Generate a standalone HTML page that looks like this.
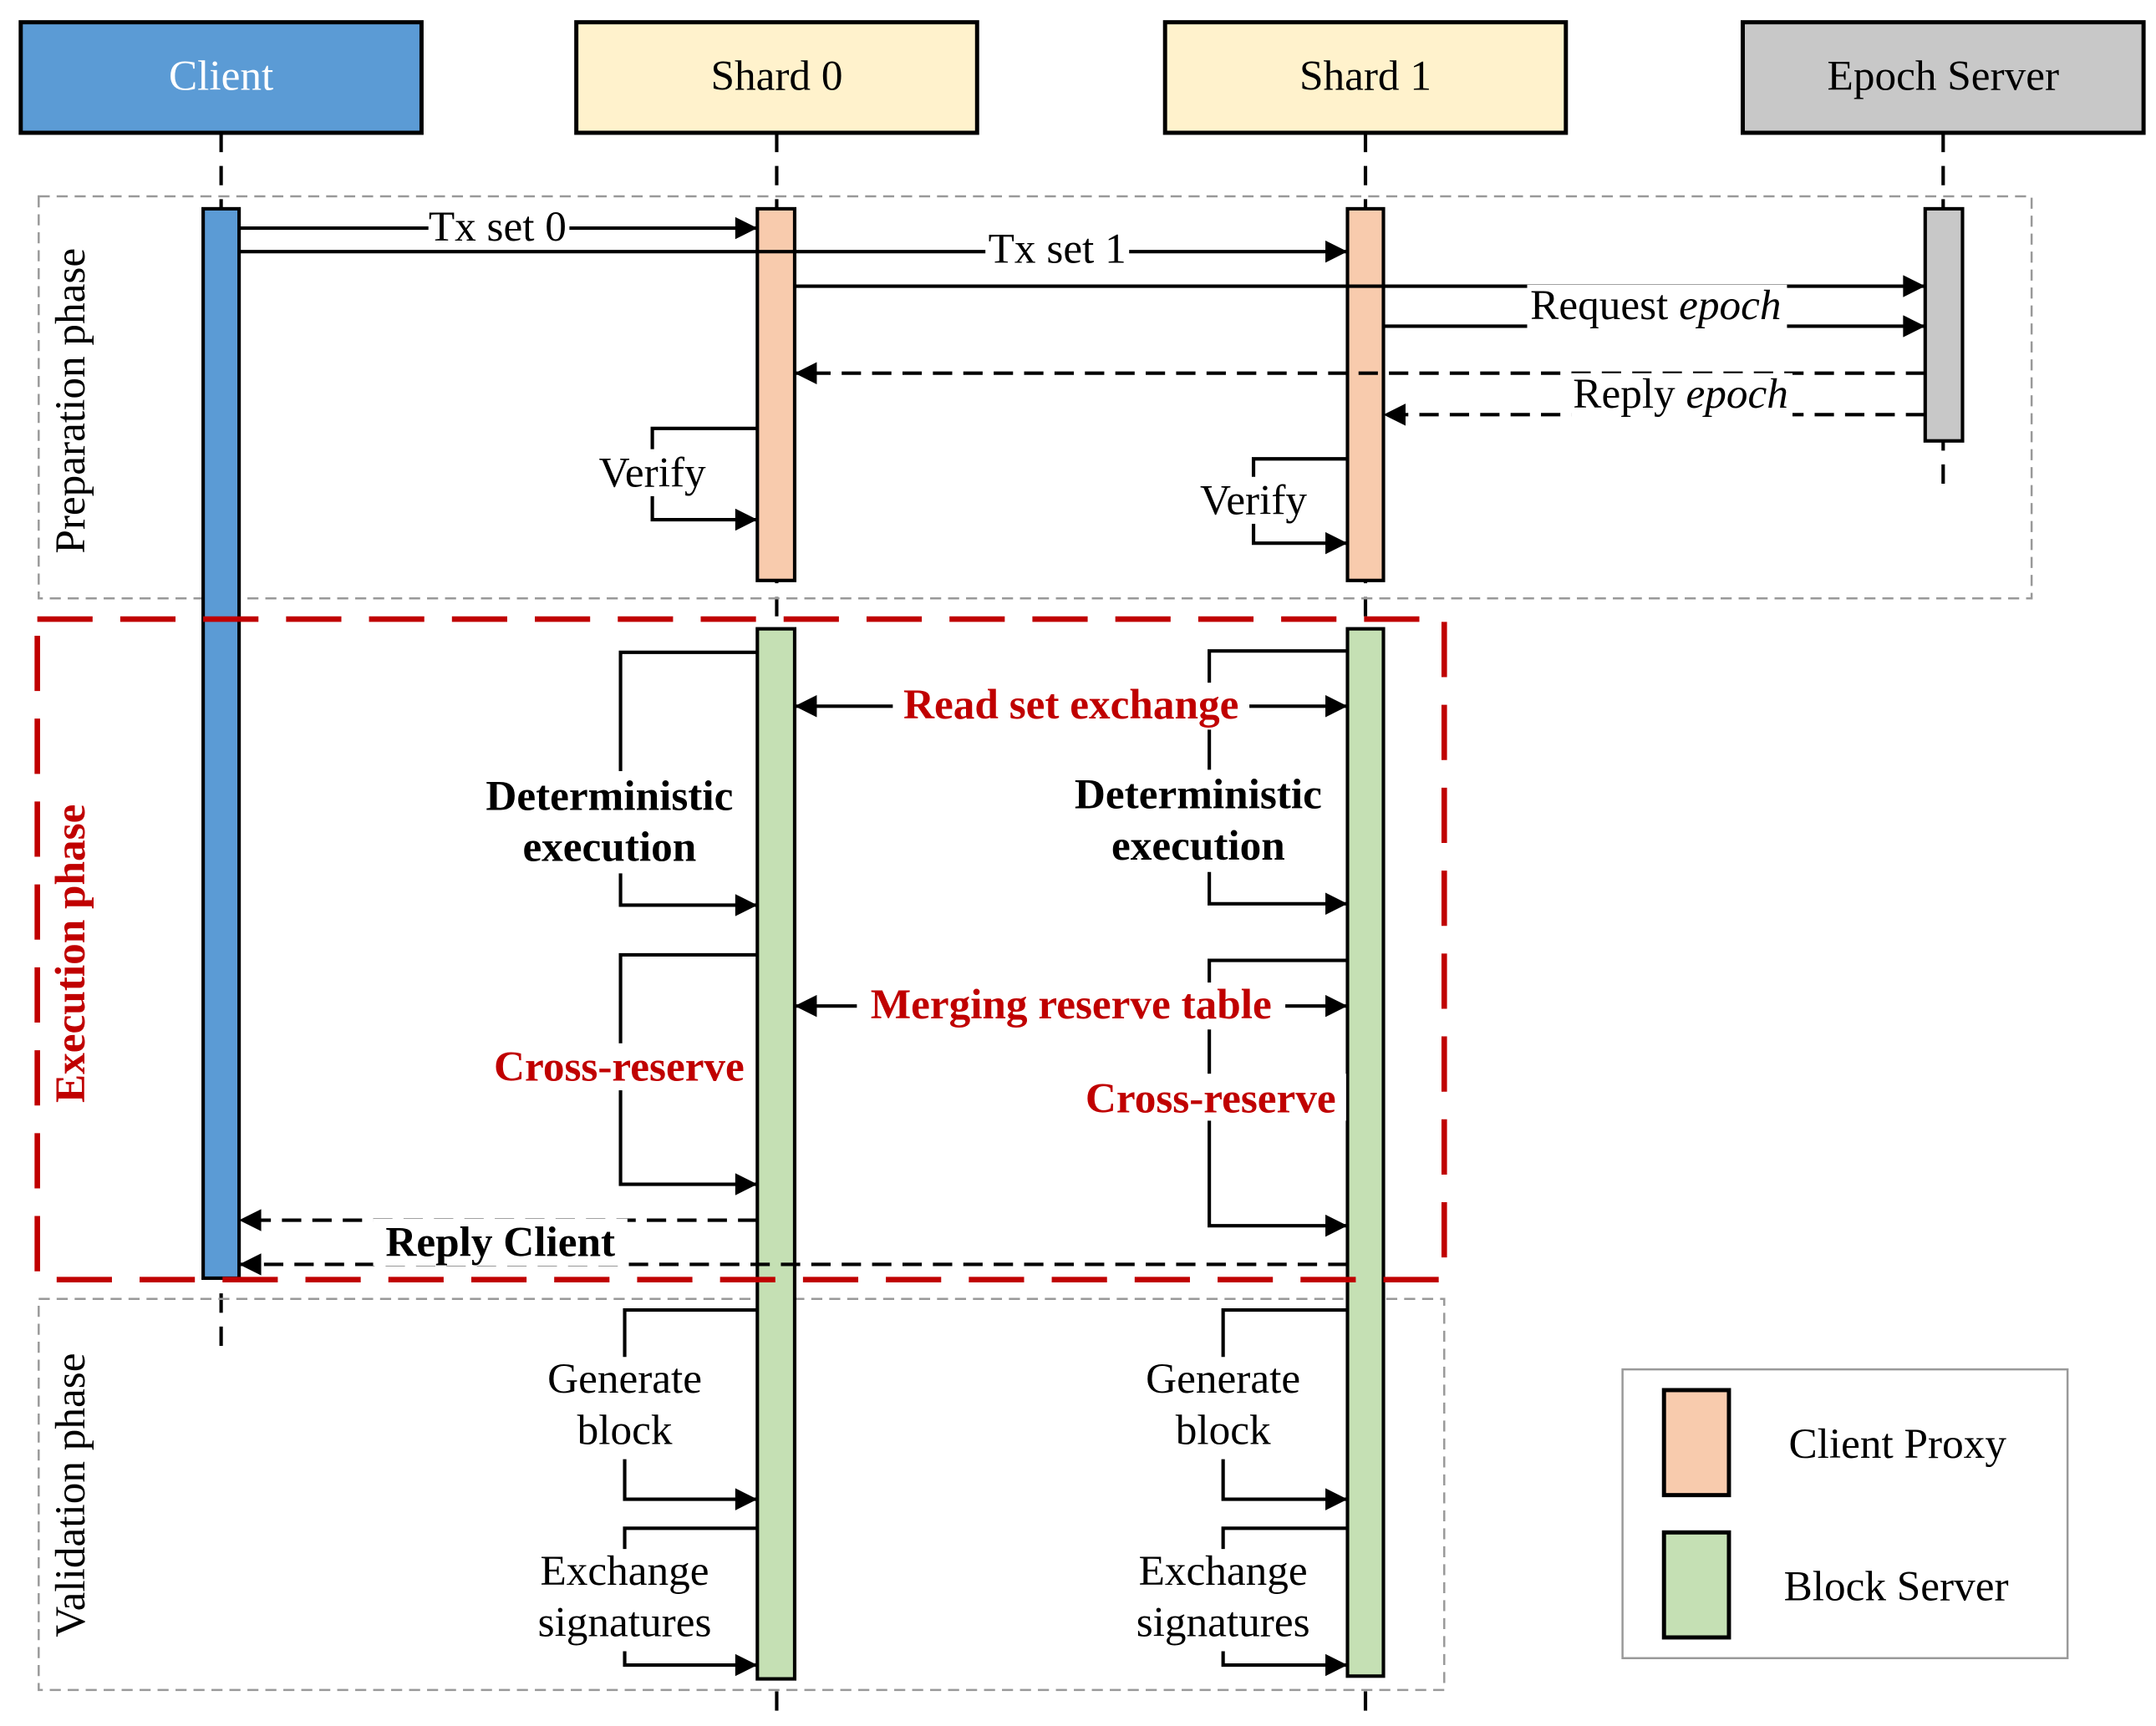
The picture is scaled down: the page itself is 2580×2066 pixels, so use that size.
<!DOCTYPE html>
<html><head><meta charset="utf-8"><style>
html,body{margin:0;padding:0;background:#fff}
svg{display:block}
text{font-family:"Liberation Serif",serif;font-size:31px}
</style></head><body>
<svg width="2580" height="2066" viewBox="0 0 1560 1249" xmlns="http://www.w3.org/2000/svg">
<defs>
<marker id="b" viewBox="0 0 10 10" refX="10" refY="5" markerWidth="20" markerHeight="16" markerUnits="userSpaceOnUse" orient="auto-start-reverse"><path d="M0,0 L10,5 L0,10z" fill="#000"/></marker>
</defs>
<rect width="1560" height="1249" fill="#fff"/>
<g stroke="#000" stroke-width="2.5" stroke-dasharray="14,10">
<line x1="160" y1="96" x2="160" y2="975"/>
<line x1="562" y1="96" x2="562" y2="1240"/>
<line x1="988" y1="96" x2="988" y2="1240"/>
<line x1="1406" y1="96" x2="1406" y2="360"/>
</g>
<rect x="28" y="142" width="1442" height="291" fill="none" stroke="#999" stroke-width="1.5" stroke-dasharray="8,5"/>
<rect x="28" y="940" width="1017" height="283" fill="none" stroke="#999" stroke-width="1.5" stroke-dasharray="8,5"/>
<g stroke="#000" stroke-width="3">
<rect x="15" y="16" width="290" height="80" fill="#5b9bd5"/>
<rect x="417" y="16" width="290" height="80" fill="#fff2cc"/>
<rect x="843" y="16" width="290" height="80" fill="#fff2cc"/>
<rect x="1261" y="16" width="290" height="80" fill="#c8c8c8"/>
</g>
<g text-anchor="middle">
<text x="160" y="65" fill="#fff">Client</text>
<text x="562" y="65">Shard 0</text>
<text x="988" y="65">Shard 1</text>
<text x="1406" y="65">Epoch Server</text>
</g>
<g stroke="#000" stroke-width="2.5">
<rect x="147" y="151" width="26" height="774" fill="#5b9bd5"/>
<rect x="548" y="151" width="27" height="269" fill="#f8cbad"/>
<rect x="975" y="151" width="26" height="269" fill="#f8cbad"/>
<rect x="1393" y="151" width="27" height="168" fill="#c8c8c8"/>
<rect x="548" y="455" width="27" height="760" fill="#c5e0b4"/>
<rect x="975" y="455" width="26" height="758" fill="#c5e0b4"/>
</g>
<rect x="27" y="448" width="1018" height="478" fill="none" stroke="#c00000" stroke-width="4" stroke-dasharray="40,20"/>
<g stroke="#000" stroke-width="2.5" fill="none" marker-end="url(#b)">
<line x1="173" y1="165" x2="548" y2="165"/>
<line x1="173" y1="182" x2="975" y2="182"/>
<line x1="575" y1="207" x2="1393" y2="207"/>
<line x1="1001" y1="236" x2="1393" y2="236"/>
<line x1="1393" y1="270" x2="575" y2="270" stroke-dasharray="14,8"/>
<line x1="1393" y1="300" x2="1001" y2="300" stroke-dasharray="14,8"/>
<polyline points="548,310 472,310 472,376 548,376"/>
<polyline points="975,332 907,332 907,393 975,393"/>
<polyline points="548,472 449,472 449,655 548,655"/>
<polyline points="975,471 875,471 875,654 975,654"/>
<line x1="575" y1="511" x2="975" y2="511" marker-start="url(#b)"/>
<line x1="575" y1="728" x2="975" y2="728" marker-start="url(#b)"/>
<polyline points="548,691 449,691 449,857 548,857"/>
<polyline points="975,695 875,695 875,887 975,887"/>
<line x1="548" y1="883" x2="173" y2="883" stroke-dasharray="14,8"/>
<line x1="975" y1="915" x2="173" y2="915" stroke-dasharray="14,8"/>
<polyline points="548,948 452,948 452,1085 548,1085"/>
<polyline points="975,948 885,948 885,1085 975,1085"/>
<polyline points="548,1106 452,1106 452,1205 548,1205"/>
<polyline points="975,1106 885,1106 885,1205 975,1205"/>
</g>
<g text-anchor="middle">
<g fill="#fff"><rect x="310" y="150" width="102" height="30"/><rect x="713" y="166" width="104" height="30"/>
<rect x="1105" y="206" width="188" height="32"/><rect x="1137" y="270" width="160" height="32"/>
<rect x="428" y="325" width="88" height="34"/><rect x="862" y="345" width="90" height="34"/>
<rect x="340" y="558" width="202" height="74"/><rect x="768" y="557" width="200" height="74"/>
<rect x="646" y="494" width="258" height="34"/><rect x="620" y="711" width="310" height="34"/>
<rect x="350" y="755" width="196" height="34"/><rect x="780" y="777" width="194" height="34"/>
<rect x="270" y="882" width="184" height="34"/>
<rect x="386" y="982" width="132" height="74"/><rect x="820" y="982" width="130" height="74"/>
<rect x="378" y="1121" width="148" height="74"/><rect x="812" y="1121" width="146" height="74"/></g>
<text x="360" y="174">Tx set 0</text>
<text x="765" y="190">Tx set 1</text>
<text x="1198" y="231">Request <tspan font-style="italic">epoch</tspan></text>
<text x="1216" y="295">Reply <tspan font-style="italic">epoch</tspan></text>
<text x="472" y="352">Verify</text>
<text x="907" y="372">Verify</text>
<text x="441" y="586" font-weight="bold">Deterministic</text>
<text x="441" y="623" font-weight="bold">execution</text>
<text x="867" y="585" font-weight="bold">Deterministic</text>
<text x="867" y="622" font-weight="bold">execution</text>
<text x="775" y="520" font-weight="bold" fill="#c00000">Read set exchange</text>
<text x="775" y="737" font-weight="bold" fill="#c00000">Merging reserve table</text>
<text x="448" y="782" font-weight="bold" fill="#c00000">Cross-reserve</text>
<text x="876" y="805" font-weight="bold" fill="#c00000">Cross-reserve</text>
<text x="362" y="909" font-weight="bold">Reply Client</text>
<text x="452" y="1008">Generate</text><text x="452" y="1045">block</text>
<text x="885" y="1008">Generate</text><text x="885" y="1045">block</text>
<text x="452" y="1147">Exchange</text><text x="452" y="1184">signatures</text>
<text x="885" y="1147">Exchange</text><text x="885" y="1184">signatures</text>
<text transform="translate(61,290) rotate(-90)">Preparation phase</text>
<text transform="translate(61,690) rotate(-90)" font-weight="bold" fill="#c00000">Execution phase</text>
<text transform="translate(61,1082) rotate(-90)">Validation phase</text>
</g>
<rect x="1174" y="991" width="322" height="209" fill="#fff" stroke="#999" stroke-width="1.5"/>
<rect x="1204" y="1006" width="47" height="76" fill="#f8cbad" stroke="#000" stroke-width="3"/>
<rect x="1204" y="1109" width="47" height="76" fill="#c5e0b4" stroke="#000" stroke-width="3"/>
<text x="1373" y="1055" text-anchor="middle">Client Proxy</text>
<text x="1372" y="1158" text-anchor="middle">Block Server</text>
</svg>
</body></html>
